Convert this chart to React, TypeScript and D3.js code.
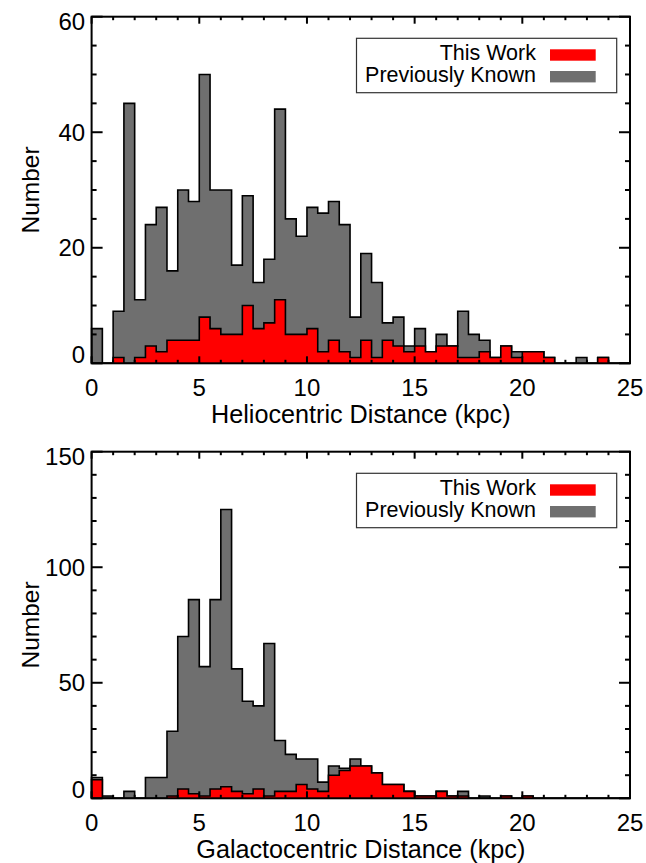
import React, { useEffect, useRef } from "react";
import * as d3 from "d3";

// histogram bins: 0.5 kpc wide, starting at 0 kpc
const binStart = 0;
const binWidth = 0.5;

const helioKnown = [
  6, 0, 9, 45, 11, 24, 27, 16, 30, 28, 50, 30, 30, 17, 29, 14, 18, 44, 25, 22,
  27, 26, 28, 24, 8, 19, 14, 7, 8, 3, 6, 2, 5, 3, 9, 5, 4, 1, 3, 2, 2, 2, 1, 0,
  0, 1, 0, 1, 0, 0,
];
const helioThisWork = [
  0, 0, 1, 0, 1, 3, 2, 4, 4, 4, 8, 6, 5, 5, 10, 6, 7, 11, 5, 5, 6, 2, 4, 2, 1,
  4, 1, 4, 3, 2, 3, 2, 3, 3, 1, 1, 2, 1, 3, 1, 2, 2, 1, 0, 0, 0, 0, 1, 0, 0,
];
const galactoKnown = [
  9, 1, 0, 3, 0, 9, 9, 29, 70, 86, 57, 86, 125, 56, 42, 40, 67, 25, 19, 17, 17,
  7, 14, 13, 17, 14, 11, 6, 6, 3, 1, 1, 3, 1, 3, 0, 1, 0, 1, 0, 1, 0, 0, 0, 0,
  0, 0, 0, 0, 0,
];
const galactoThisWork = [
  8, 0, 0, 0, 0, 0, 0, 1, 4, 2, 1, 4, 5, 3, 2, 4, 1, 3, 3, 6, 4, 3, 10, 12, 14,
  14, 11, 6, 6, 3, 1, 1, 3, 1, 1, 0, 0, 0, 1, 0, 1, 0, 0, 0, 0, 0, 0, 0, 0, 0,
];

const xTicks = [0, 5, 10, 15, 20, 25];
const legendLabels = ["This Work", "Previously Known"];

const W = 646,
  H = 863;
const plotLeft = 91.6,
  plotRight = 630;
const FONT = "'Liberation Sans', Arial, Helvetica, sans-serif";
const GREY = "#6f6f6f";
const RED = "#ff0000";

const x = d3.scaleLinear().domain([0, 25]).range([plotLeft, plotRight]);

const drawPanel = (root, cfg) => {
  const { top, bottom, yMax, yMajor, yMinor, known, work, xTitle } = cfg;
  const y = d3.scaleLinear().domain([0, yMax]).range([bottom, top]);
  const g = root.append("g");

  const steps = (vals) => {
    const p = vals.map((v, i) => [binStart + i * binWidth, v]);
    p.push([binStart + vals.length * binWidth, vals[vals.length - 1]]);
    return p;
  };
  const area = d3
    .area()
    .curve(d3.curveStepAfter)
    .x((d) => x(d[0]))
    .y0(y(0))
    .y1((d) => y(d[1]));
  const line = d3
    .line()
    .curve(d3.curveStepAfter)
    .x((d) => x(d[0]))
    .y((d) => y(d[1]));

  [
    [known, GREY],
    [work, RED],
  ].forEach(([vals, col]) => {
    const p = steps(vals);
    g.append("path").attr("d", area(p)).attr("fill", col);
    const outline = [[binStart, 0], ...p, [p[p.length - 1][0], 0]];
    g.append("path")
      .attr("d", line(outline))
      .attr("fill", "none")
      .attr("stroke", "#000")
      .attr("stroke-width", 1.6)
      .attr("stroke-linejoin", "miter");
  });

  // frame
  g.append("rect")
    .attr("x", plotLeft)
    .attr("y", top)
    .attr("width", plotRight - plotLeft)
    .attr("height", bottom - top)
    .attr("fill", "none")
    .attr("stroke", "#000")
    .attr("stroke-width", 2);

  // x ticks (bottom and top)
  d3.range(0, 25.01, 1).forEach((v) => {
    const len = v % 5 === 0 ? 7 : 3.5;
    g.append("line")
      .attr("x1", x(v)).attr("x2", x(v))
      .attr("y1", bottom).attr("y2", bottom - len)
      .attr("stroke", "#000").attr("stroke-width", 2);
    g.append("line")
      .attr("x1", x(v)).attr("x2", x(v))
      .attr("y1", top).attr("y2", top + len)
      .attr("stroke", "#000").attr("stroke-width", 2);
  });

  // y ticks (left and right)
  d3.range(0, yMax + 0.01, yMinor).forEach((v) => {
    const len = v % yMajor === 0 ? 11 : 5;
    g.append("line")
      .attr("x1", plotLeft).attr("x2", plotLeft + len)
      .attr("y1", y(v)).attr("y2", y(v))
      .attr("stroke", "#000").attr("stroke-width", 2);
    g.append("line")
      .attr("x1", plotRight).attr("x2", plotRight - len)
      .attr("y1", y(v)).attr("y2", y(v))
      .attr("stroke", "#000").attr("stroke-width", 2);
  });

  // tick labels
  g.selectAll(".xl")
    .data(xTicks)
    .enter()
    .append("text")
    .attr("x", (d) => x(d))
    .attr("y", bottom + 33)
    .attr("text-anchor", "middle")
    .style("font-size", "24px")
    .text((d) => d);

  const yLabs = d3.range(0, yMax + 0.01, yMajor);
  g.selectAll(".yl")
    .data(yLabs)
    .enter()
    .append("text")
    .attr("x", plotLeft - 6.5)
    .attr("y", (d) => {
      let c = y(d);
      if (d === 0) c -= 8.5;
      if (d === yMax) c += 5;
      return c + 8.5;
    })
    .attr("text-anchor", "end")
    .style("font-size", "24px")
    .text((d) => d);

  // axis titles
  g.append("text")
    .attr("x", (plotLeft + plotRight) / 2)
    .attr("y", bottom + 60)
    .attr("text-anchor", "middle")
    .style("font-size", "25.2px")
    .text(xTitle);
  g.append("text")
    .attr("transform", `translate(39, ${(top + bottom) / 2}) rotate(-90)`)
    .attr("text-anchor", "middle")
    .style("font-size", "24.5px")
    .text("Number");

  // legend
  const lg = g.append("g").attr("transform", `translate(0, ${top})`);
  lg.append("rect")
    .attr("x", 356.5)
    .attr("y", 21.6)
    .attr("width", 260.2)
    .attr("height", 54.4)
    .attr("fill", "#fff")
    .attr("stroke", "#333")
    .attr("stroke-width", 1.2);
  [RED, GREY].forEach((col, i) => {
    lg.append("text")
      .attr("x", 536)
      .attr("y", 43.3 + i * 21.7)
      .attr("text-anchor", "end")
      .style("font-size", "21.5px")
      .text(legendLabels[i]);
    lg.append("rect")
      .attr("x", 550)
      .attr("y", 32.6 + i * 21.7)
      .attr("width", 45.7)
      .attr("height", 11.4)
      .attr("fill", col);
  });
};

export default function App() {
  const ref = useRef(null);

  useEffect(() => {
    const svg = d3.select(ref.current);
    svg.selectAll("*").remove();
    svg.append("rect").attr("width", W).attr("height", H).attr("fill", "#fff");

    drawPanel(svg, {
      top: 16.7,
      bottom: 363.3,
      yMax: 60,
      yMajor: 20,
      yMinor: 5,
      known: helioKnown,
      work: helioThisWork,
      xTitle: "Heliocentric Distance (kpc)",
    });
    drawPanel(svg, {
      top: 451.7,
      bottom: 798.3,
      yMax: 150,
      yMajor: 50,
      yMinor: 10,
      known: galactoKnown,
      work: galactoThisWork,
      xTitle: "Galactocentric Distance (kpc)",
    });
  }, []);

  return (
    <svg
      ref={ref}
      width={W}
      height={H}
      style={{ position: "absolute", left: 0, top: 0, fontFamily: FONT }}
    />
  );
}
